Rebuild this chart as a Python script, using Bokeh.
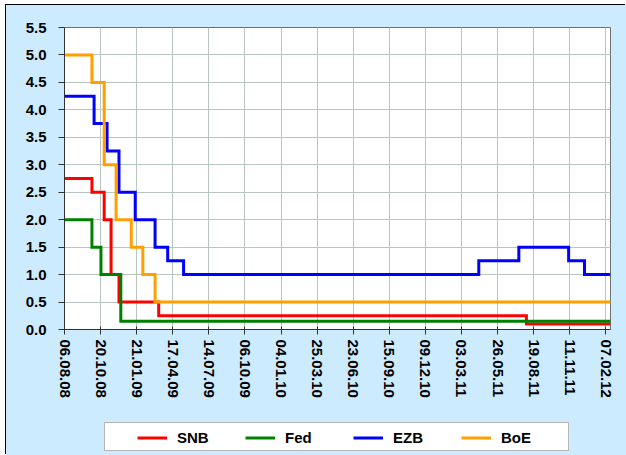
from bokeh.plotting import figure
from bokeh.layouts import column
from bokeh.models import FixedTicker, PrintfTickFormatter, Legend, LegendItem, Range1d
from bokeh.embed import file_html
from bokeh.resources import INLINE

# ---- data (x in units of the evenly spaced category ticks) ----
tick_labels = ["06.08.08", "20.10.08", "21.01.09", "17.04.09", "14.07.09", "06.10.09",
               "04.01.10", "25.03.10", "23.06.10", "15.09.10", "09.12.10", "03.03.11",
               "26.05.11", "19.08.11", "11.11.11", "07.02.12"]
y_ticks = [0.0, 0.5, 1.0, 1.5, 2.0, 2.5, 3.0, 3.5, 4.0, 4.5, 5.0, 5.5]
x_end = 15.13

snb_x = [0, 0.76, 1.10, 1.29, 1.51, 2.61, 12.80]
snb_y = [2.75, 2.5, 2.0, 1.0, 0.5, 0.25, 0.1]
fed_x = [0, 0.76, 1.01, 1.56]
fed_y = [2.0, 1.5, 1.0, 0.15]
ezb_x = [0, 0.82, 1.18, 1.51, 1.96, 2.51, 2.86, 3.30, 11.48, 12.59, 13.97, 14.41]
ezb_y = [4.25, 3.75, 3.25, 2.5, 2.0, 1.5, 1.25, 1.0, 1.25, 1.5, 1.25, 1.0]
boe_x = [0, 0.76, 1.10, 1.43, 1.85, 2.17, 2.51]
boe_y = [5.0, 4.5, 3.0, 2.0, 1.5, 1.0, 0.5]

series = [
    ("SNB", snb_x, snb_y, "#FF0000"),
    ("Fed", fed_x, fed_y, "#008000"),
    ("EZB", ezb_x, ezb_y, "#0000FF"),
    ("BoE", boe_x, boe_y, "#FFA000"),
]

FONT = "Liberation Sans"
BG = "#CCEBFF"

# ---------------- main chart ----------------
p = figure(width=620, height=410, output_backend="svg", toolbar_location=None,
           x_range=Range1d(0, x_end), y_range=Range1d(0, 5.5),
           min_border_left=58, min_border_right=16, min_border_top=22, min_border_bottom=86)
p.background_fill_color = "white"
p.border_fill_color = BG
p.outline_line_color = "#707070"
p.outline_line_width = 1

p.xaxis.ticker = FixedTicker(ticks=list(range(len(tick_labels))))
p.xaxis.major_label_overrides = {i: t for i, t in enumerate(tick_labels)}
p.xaxis.major_label_orientation = "vertical"
p.xaxis.major_tick_in = 3
p.xaxis.major_tick_out = 5
p.xaxis.major_label_standoff = 5
p.yaxis.ticker = FixedTicker(ticks=y_ticks)
p.yaxis.formatter = PrintfTickFormatter(format="%.1f")
p.yaxis.major_tick_in = 0
p.yaxis.major_tick_out = 6
p.yaxis.major_label_standoff = 12
for ax in (p.xaxis, p.yaxis):
    ax.minor_tick_line_color = None
    ax.axis_line_color = "#333333"
    ax.major_tick_line_color = "#333333"
    ax.major_label_text_font = FONT
    ax.major_label_text_font_style = "bold"
    ax.major_label_text_font_size = "15px"
    ax.major_label_text_color = "black"

p.xgrid.grid_line_color = "#B8C6C0"
p.ygrid.grid_line_color = "#B8C6C0"

for name, xs, ys, col in series:
    p.step(list(xs) + [x_end], list(ys) + [ys[-1]], mode="after",
           line_color=col, line_width=3, line_join="miter")

# ---------------- legend strip (same series, out of view; only the legend shows) ----------------
q = figure(width=620, height=40, output_backend="svg", toolbar_location=None,
           x_range=Range1d(0, x_end), y_range=Range1d(100, 101),
           min_border_left=58, min_border_right=16, min_border_top=0, min_border_bottom=0)
q.axis.visible = False
q.grid.visible = False
q.outline_line_color = None
q.background_fill_color = None
q.border_fill_color = BG

dummy = q.line(x=[0, 1], y=[0, 0], line_alpha=0)
box = Legend(items=[LegendItem(label=" ", renderers=[dummy])],
             location=(40, 4), orientation="horizontal",
             padding=0, margin=0, glyph_width=1, glyph_height=27,
             label_standoff=0, label_width=462, label_height=27,
             border_line_color="#707070", border_line_width=1,
             background_fill_color="white", background_fill_alpha=1,
             label_text_font_size="1px")
q.add_layout(box, "center")

items = []
for name, xs, ys, col in series:
    r = q.step(list(xs) + [x_end], list(ys) + [ys[-1]], mode="after",
               line_color=col, line_width=3)
    items.append(LegendItem(label=name, renderers=[r]))
leg = Legend(items=items, location=(73, 4), orientation="horizontal",
             padding=0, margin=0, spacing=8,
             glyph_width=30, glyph_height=27, label_standoff=10,
             label_width=60, label_height=27,
             border_line_alpha=0, background_fill_alpha=0,
             label_text_font=FONT, label_text_font_style="bold",
             label_text_font_size="15px", label_text_color="black")
q.add_layout(leg, "center")

layout = column(p, q, spacing=0, margin=(5, 0, 0, 6),
                styles={"box-shadow": "-1px -1px 0 0 #000000", "background-color": BG})

open("out.html", "w").write(file_html(layout, INLINE))
